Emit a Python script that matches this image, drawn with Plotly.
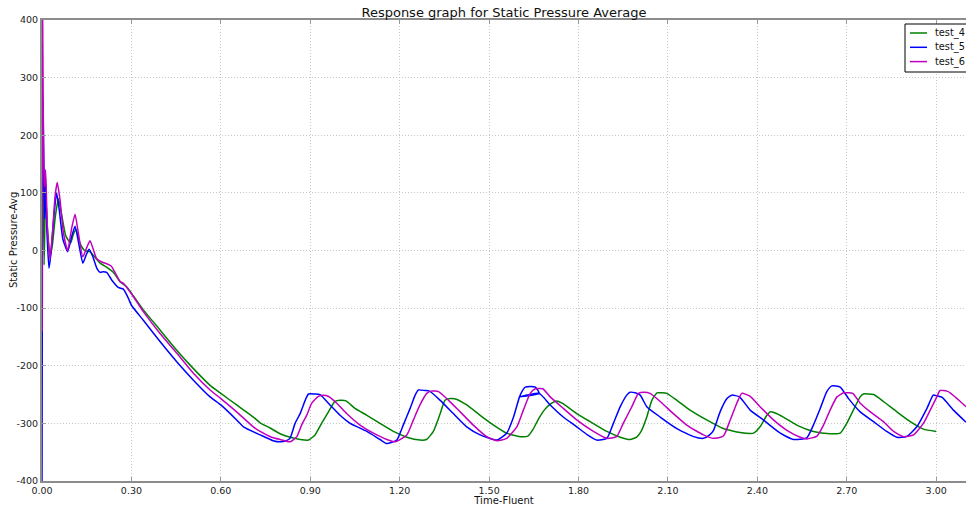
import plotly.graph_objects as go

# Time-Fluent samples and static pressure averages for each run
t_test4 = [0.001, 0.004, 0.007, 0.012, 0.018, 0.027, 0.035, 0.045, 0.055, 0.065, 0.080, 0.096,
           0.105, 0.114, 0.128, 0.143, 0.160, 0.175, 0.195, 0.220, 0.240, 0.262, 0.284, 0.300,
           0.340, 0.396, 0.452, 0.508, 0.564, 0.600, 0.653, 0.709, 0.732, 0.765, 0.799, 0.840,
           0.866, 0.894, 0.916, 0.938, 0.961, 0.983, 1.000, 1.020, 1.050, 1.090, 1.134, 1.179,
           1.224, 1.268, 1.290, 1.313, 1.336, 1.352, 1.370, 1.390, 1.425, 1.470, 1.515, 1.559,
           1.604, 1.630, 1.648, 1.665, 1.685, 1.710, 1.727, 1.745, 1.794, 1.839, 1.895, 1.940,
           1.973, 1.995, 2.010, 2.029, 2.046, 2.063, 2.080, 2.096, 2.130, 2.174, 2.230, 2.286,
           2.342, 2.387, 2.409, 2.432, 2.443, 2.460, 2.487, 2.532, 2.588, 2.644, 2.678, 2.700,
           2.722, 2.745, 2.756, 2.790, 2.823, 2.868, 2.913, 2.957, 3.000]
p_test4 = [20, 140, -25, 100, 40, -11, 10, 60, 90, 65, 25, 13,
           28, 36, 12, 0, -2, -10, -22, -30, -38, -54, -63, -74,
           -103, -138, -173, -205, -234, -248, -268, -289, -299, -308, -318, -325,
           -328, -329, -320, -300, -280, -262, -260, -261, -274, -286, -300, -314,
           -324, -329, -328, -314, -283, -260, -257, -258, -268, -286, -303, -317,
           -323, -322, -310, -293, -277, -265, -261, -265, -283, -297, -314, -324,
           -328, -324, -314, -289, -260, -247, -247, -248, -260, -277, -294, -309,
           -316, -317, -306, -286, -280, -282, -289, -303, -314, -318, -317, -300,
           -277, -254, -249, -250, -262, -280, -297, -310, -314]

t_test5 = [0.000, 0.003, 0.005, 0.009, 0.012, 0.016, 0.0235, 0.030, 0.040, 0.049, 0.058, 0.070,
           0.086, 0.100, 0.111, 0.124, 0.137, 0.148, 0.158, 0.170, 0.185, 0.195, 0.205, 0.217,
           0.235, 0.256, 0.273, 0.290, 0.300, 0.340, 0.396, 0.452, 0.508, 0.564, 0.600, 0.653,
           0.676, 0.732, 0.775, 0.800, 0.820, 0.832, 0.849, 0.866, 0.883, 0.894, 0.915, 0.933,
           0.966, 1.000, 1.034, 1.090, 1.134, 1.157, 1.190, 1.212, 1.235, 1.252, 1.263, 1.285,
           1.300, 1.336, 1.380, 1.425, 1.470, 1.526, 1.559, 1.582, 1.602, 1.612, 1.621, 1.655,
           1.668, 1.602, 1.668, 1.705, 1.749, 1.794, 1.830, 1.861, 1.895, 1.917, 1.940, 1.962,
           1.973, 1.990, 2.007, 2.029, 2.074, 2.130, 2.186, 2.219, 2.240, 2.253, 2.275, 2.298,
           2.314, 2.340, 2.376, 2.420, 2.477, 2.521, 2.566, 2.588, 2.611, 2.633, 2.650, 2.678,
           2.706, 2.745, 2.790, 2.834, 2.868, 2.900, 2.935, 2.969, 2.990, 3.000, 3.020, 3.058,
           3.100]
p_test5 = [-420, 260, 200, 55, 125, 40, -31, -5, 60, 100, 70, 20,
           -2, 25, 42, 10, -22, -8, 2, -10, -32, -38, -37, -38,
           -52, -64, -67, -83, -95, -121, -158, -193, -225, -254, -268, -294,
           -306, -320, -330, -332, -330, -326, -300, -283, -260, -249, -249, -250,
           -268, -286, -300, -314, -328, -335, -329, -303, -274, -251, -242, -243,
           -244, -260, -283, -306, -320, -329, -317, -289, -254, -243, -237, -237,
           -248, -254, -248, -268, -289, -306, -320, -329, -326, -300, -271, -251,
           -246, -247, -251, -271, -289, -309, -323, -326, -320, -312, -280, -257,
           -251, -254, -277, -294, -317, -328, -325, -303, -274, -245, -235, -237,
           -257, -280, -297, -314, -324, -323, -306, -274, -251, -252, -255, -277,
           -298]

t_test6 = [0.000, 0.002, 0.005, 0.008, 0.012, 0.018, 0.027, 0.035, 0.044, 0.051, 0.060, 0.072,
           0.086, 0.100, 0.111, 0.122, 0.137, 0.150, 0.161, 0.172, 0.183, 0.200, 0.217, 0.232,
           0.247, 0.262, 0.273, 0.300, 0.340, 0.396, 0.452, 0.508, 0.564, 0.600, 0.653, 0.709,
           0.732, 0.770, 0.799, 0.832, 0.855, 0.871, 0.888, 0.905, 0.927, 0.945, 0.960, 0.989,
           1.022, 1.067, 1.112, 1.157, 1.185, 1.224, 1.246, 1.268, 1.291, 1.305, 1.330, 1.364,
           1.403, 1.447, 1.492, 1.526, 1.559, 1.593, 1.615, 1.638, 1.655, 1.680, 1.705, 1.749,
           1.794, 1.850, 1.895, 1.928, 1.950, 1.979, 2.001, 2.020, 2.040, 2.074, 2.118, 2.163,
           2.219, 2.253, 2.286, 2.309, 2.331, 2.348, 2.376, 2.409, 2.454, 2.499, 2.544, 2.566,
           2.600, 2.622, 2.644, 2.667, 2.690, 2.720, 2.745, 2.779, 2.823, 2.857, 2.890, 2.924,
           2.957, 2.980, 3.002, 3.013, 3.036, 3.047, 3.081, 3.100]
p_test6 = [-140, 420, 180, 110, 140, 40, -15, 30, 95, 118, 90, 30,
           0, 40, 63, 30, -11, 5, 17, 2, -14, -20, -23, -27,
           -40, -54, -57, -75, -106, -144, -178, -213, -242, -257, -280, -306,
           -314, -324, -328, -332, -323, -303, -286, -265, -253, -251, -253, -265,
           -283, -303, -317, -328, -332, -320, -294, -268, -248, -244, -245, -260,
           -280, -303, -323, -330, -326, -306, -277, -248, -240, -240, -254, -274,
           -294, -314, -326, -323, -300, -271, -248, -246, -248, -262, -283, -303,
           -320, -326, -322, -294, -265, -248, -253, -271, -294, -312, -324, -327,
           -322, -303, -277, -254, -247, -248, -265, -280, -297, -314, -323, -320,
           -300, -277, -254, -243, -244, -247, -262, -271]

series_names = ["test_4", "test_5", "test_6"]
series_colors = ["#008000", "#0000ff", "#bf00bf"]

x_ticks = [0.0, 0.3, 0.6, 0.9, 1.2, 1.5, 1.8, 2.1, 2.4, 2.7, 3.0]
y_ticks = [400, 300, 200, 100, 0, -100, -200, -300, -400]

FONT = "DejaVu Sans, Liberation Sans, sans-serif"
W, H = 966, 506
ML, MT, MB = 42, 20, 25
PW, PH = W - ML, H - MT - MB


def px_x(px):
    return (px - ML) / PW


def px_y(py):
    return (H - MB - py) / PH


fig = go.Figure()
for name, color, tx, py in zip(series_names, series_colors,
                               [t_test4, t_test5, t_test6],
                               [p_test4, p_test5, p_test6]):
    fig.add_trace(go.Scatter(x=tx, y=py, mode="lines", name=name,
                             line=dict(color=color, width=1.5, shape="spline",
                                       smoothing=0.5),
                             showlegend=False))

axis_common = dict(
    showgrid=True, gridcolor="#c8c8c8", griddash="1px,2px", gridwidth=1,
    showline=True, linecolor="#8c8c8c", linewidth=2,
    ticks="inside", ticklen=4, tickcolor="#9a9a9a",
    zeroline=False, automargin=False,
    tickfont=dict(family=FONT, size=9.5, color="#222222"),
)

# Legend box drawn in the upper-right corner of the axes
shapes = [dict(type="rect", xref="paper", yref="paper",
               x0=px_x(905), x1=px_x(990), y0=px_y(72), y1=px_y(24),
               line=dict(color="#000000", width=1), fillcolor="white", layer="above")]
annotations = []
for i, (name, color) in enumerate(zip(series_names, series_colors)):
    yy = 33 + i * 14.3
    shapes.append(dict(type="line", xref="paper", yref="paper",
                       x0=px_x(910), x1=px_x(927), y0=px_y(yy), y1=px_y(yy),
                       line=dict(color=color, width=1.5), layer="above"))
    annotations.append(dict(text=name, xref="paper", yref="paper",
                            x=px_x(933), y=px_y(yy), xanchor="left", yanchor="middle",
                            showarrow=False,
                            font=dict(family=FONT, size=9.8, color="#111111")))

# Vertical axis title
annotations.append(dict(text="Static Pressure-Avg", xref="paper", yref="paper",
                        x=px_x(14), y=px_y(240), textangle=-90,
                        xanchor="center", yanchor="middle", showarrow=False,
                        font=dict(family=FONT, size=10, color="#111111")))

fig.update_layout(
    width=W, height=H,
    margin=dict(l=ML, r=0, t=MT, b=MB),
    paper_bgcolor="white", plot_bgcolor="white",
    font=dict(family=FONT, color="#111111"),
    title=dict(text="Response graph for Static Pressure Average",
               x=0.5, xref="paper", y=1 - 12 / H, yref="container",
               yanchor="middle", font=dict(family=FONT, size=13, color="#111111")),
    xaxis=dict(range=[0, 3.1], tickvals=x_ticks,
               ticktext=[f"{v:.2f}" for v in x_ticks],
               mirror="ticks",
               title=dict(text="Time-Fluent", standoff=1,
                          font=dict(family=FONT, size=10, color="#111111")),
               **axis_common),
    yaxis=dict(range=[-400, 400], tickvals=y_ticks,
               ticktext=[str(v) for v in y_ticks],
               **axis_common),
    shapes=shapes,
    annotations=annotations,
    showlegend=False,
)

fig.write_html("out.html")
